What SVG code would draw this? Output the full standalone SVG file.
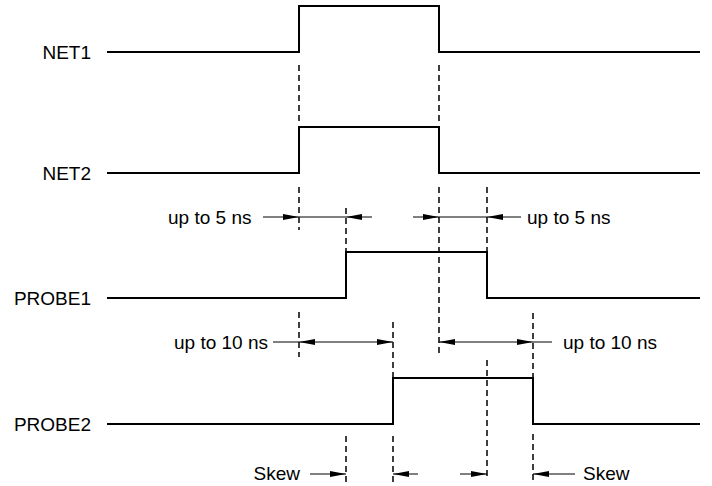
<svg xmlns="http://www.w3.org/2000/svg" width="712" height="486" viewBox="0 0 712 486">
<style>
text{font-family:"Liberation Sans",Arial,sans-serif;font-size:19px;fill:#000}
.w{fill:none;stroke:#000;stroke-width:2}
.d{fill:none;stroke:#000;stroke-width:1.5;stroke-dasharray:6 4}
.a{fill:none;stroke:#000;stroke-width:1}
.h{fill:none;stroke:#000;stroke-width:1;marker-end:url(#ah)}
</style>
<defs>
<marker id="ah" markerUnits="userSpaceOnUse" markerWidth="16" markerHeight="6" refX="16" refY="3" orient="auto" viewBox="0 0 16 6">
<path d="M0,0 L16,3 L0,6 z" fill="#000"/>
</marker>
</defs>
<rect width="712" height="486" fill="#fff"/>
<g id="net1"><text x="91" y="59" text-anchor="end">NET1</text><path class="w" d="M107,52 H299 V6 H439 V52 H700"/></g>
<g id="net2"><text x="91" y="180" text-anchor="end">NET2</text><path class="w" d="M107,173 H299 V127 H439 V173 H700"/></g>
<g id="probe1"><text x="91" y="305" text-anchor="end">PROBE1</text><path class="w" d="M107,298 H346 V252 H487 V298 H700"/></g>
<g id="probe2"><text x="91" y="431" text-anchor="end">PROBE2</text><path class="w" d="M107,424 H393 V378 H533 V424 H700"/></g>
<g id="connectors">
<path class="d" d="M299,65 V125 M439,65 V125"/>
<path class="d" d="M299,187 V230 M346,208 V251 M439,187 V357 M487,187 V251"/>
<path class="d" d="M299,312 V357 M393,322 V377 M533,313 V377 M487,360 V480"/>
<path class="d" d="M346,436 V482 M393,436 V482 M533,434 V482"/>
<line class="h" x1="263" y1="217" x2="299" y2="217"/>
<line class="a" x1="299" y1="217" x2="346" y2="217"/>
<line class="h" x1="372" y1="217" x2="346" y2="217"/>
<line class="h" x1="413" y1="217" x2="439" y2="217"/>
<line class="a" x1="439" y1="217" x2="487" y2="217"/>
<line class="h" x1="521" y1="217" x2="487" y2="217"/>
<line class="a" x1="273" y1="342" x2="299" y2="342"/>
<line class="h" x1="346" y1="342" x2="299" y2="342"/>
<line class="h" x1="346" y1="342" x2="393" y2="342"/>
<line class="h" x1="486" y1="342" x2="439" y2="342"/>
<line class="h" x1="486" y1="342" x2="533" y2="342"/>
<line class="a" x1="533" y1="342" x2="552" y2="342"/>
<line class="h" x1="310" y1="474" x2="346" y2="474"/>
<line class="h" x1="418" y1="474" x2="393" y2="474"/>
<line class="h" x1="460" y1="474" x2="487" y2="474"/>
<line class="h" x1="575" y1="474" x2="533" y2="474"/>
</g>
<g id="labels">
<text x="168" y="224">up to 5 ns</text>
<text x="527" y="224">up to 5 ns</text>
<text x="268" y="349" text-anchor="end">up to 10 ns</text>
<text x="563" y="349">up to 10 ns</text>
<text x="300" y="480" text-anchor="end">Skew</text>
<text x="583" y="480">Skew</text>
</g>
</svg>
